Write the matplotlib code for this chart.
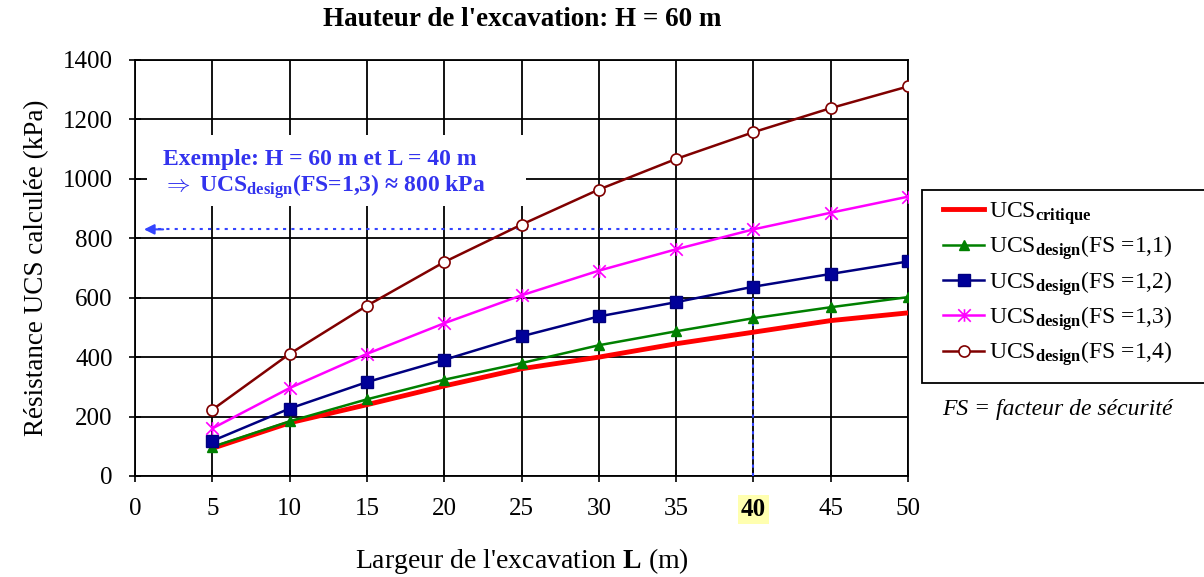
import matplotlib
matplotlib.use("Agg")
import matplotlib.pyplot as plt
from matplotlib.path import Path
from matplotlib.patches import Rectangle
import numpy as np

# ---- data ----
L = [5, 10, 15, 20, 25, 30, 35, 40, 45, 50]
ucs_critique = [93, 179, 240, 303, 361, 400, 445, 484, 523, 549]
ucs_fs11 = [98, 184, 258, 324, 380, 440, 487, 531, 568, 602]
ucs_fs12 = [118, 227, 316, 391, 470, 537, 585, 637, 680, 722]
ucs_fs13 = [160, 296, 411, 514, 608, 691, 763, 830, 886, 940]
ucs_fs14 = [223, 411, 573, 720, 846, 964, 1067, 1157, 1238, 1311]
x_ticks = [0, 5, 10, 15, 20, 25, 30, 35, 40, 45, 50]
y_ticks = [0, 200, 400, 600, 800, 1000, 1200, 1400]
example_L = 40

plt.rcParams['font.family'] = ['Liberation Serif', 'DejaVu Serif']
plt.rcParams['mathtext.fontset'] = 'custom'
plt.rcParams['mathtext.rm'] = 'Liberation Serif'
plt.rcParams['mathtext.bf'] = 'Liberation Serif:bold'
plt.rcParams['mathtext.it'] = 'Liberation Serif:italic'

W, H = 1204, 577
fig = plt.figure(figsize=(W/100, H/100), dpi=100)
ax = fig.add_axes([135/W, 1-476/H, (908-135)/W, (476-60)/H])

star = Path([(-1, -1), (1, 1), (-1, 1), (1, -1), (0, -1), (0, 1)],
            [Path.MOVETO, Path.LINETO, Path.MOVETO, Path.LINETO, Path.MOVETO, Path.LINETO])

ax.plot(L, ucs_critique, color='#ff0000', lw=3.5, zorder=5, label=r'UCS$_{\mathbf{critique}}$')
ax.plot(L, ucs_fs11, color='#008000', lw=1.8, marker='^', ms=7, zorder=5,
        label=r'UCS$_{\mathbf{design}}$(FS =1,1)')
ax.plot(L, ucs_fs12, color='#000080', lw=1.8, marker='s', ms=8, mfc='#000099', zorder=5,
        label=r'UCS$_{\mathbf{design}}$(FS =1,2)')
ax.plot(L, ucs_fs13, color='#ff00ff', lw=1.8, marker=star, ms=9, mew=1.2, zorder=5,
        label=r'UCS$_{\mathbf{design}}$(FS =1,3)')
ax.plot(L, ucs_fs14, color='#800000', lw=1.8, marker='o', ms=8, mfc='white', mew=1.2, zorder=5,
        label=r'UCS$_{\mathbf{design}}$(FS =1,4)')

# example dotted lines
ex_val = ucs_fs13[L.index(example_L)]
dot_col = '#3344ff'
ax.plot([example_L, example_L], [0, ex_val], color=dot_col, lw=1.5, ls=(0, (1.5, 2.5)), zorder=4)
ax.plot([1.5, example_L], [ex_val, ex_val], color=dot_col, lw=1.5, ls=(0, (1.5, 2.5)), zorder=4)
ax.annotate('', xy=(0.4, ex_val), xytext=(2.0, ex_val),
            arrowprops=dict(arrowstyle='-|>,head_length=0.6,head_width=0.3', color=dot_col, lw=1.5),
            zorder=4)

# white box behind the example text (hides grid lines)
ax.add_patch(Rectangle((0.8, 908), 24.5, 241, facecolor='white', edgecolor='none', zorder=3))
ax.text(1.8, 1065, 'Exemple: H = 60 m et L = 40 m', color='#3333ee', fontsize=17,
        fontweight='bold', va='center', ha='left', zorder=6)
ax.text(1.8, 975, r'$\Rightarrow$ UCS$_{\mathbf{design}}$(FS=1,3) ≈ 800 kPa', color='#3333ee',
        fontsize=17, fontweight='bold', va='center', ha='left', zorder=6)

ax.set_xlim(0, 50)
ax.set_ylim(0, 1400)
ax.set_xticks(x_ticks)
ax.set_yticks(y_ticks)
ax.grid(True, color='black', lw=1.3, zorder=1)
ax.set_axisbelow(True)
for s in ax.spines.values():
    s.set_color('black')
    s.set_linewidth(1.3)
ax.tick_params(direction='inout', length=8, width=1.2, labelsize=18, colors='black')
ax.tick_params(axis='x', pad=12)
ax.tick_params(axis='y', pad=12)

for lab in ax.get_xticklabels():
    if lab.get_text() == str(example_L):
        lab.set_fontweight('bold')
        lab.set_bbox(dict(facecolor='#ffffb0', edgecolor='none', pad=2))

ax.set_xlabel(r"Largeur de l'excavation $\mathbf{L}$ (m)", fontsize=20, labelpad=18)
ax.set_ylabel('Résistance UCS calculée (kPa)', fontsize=19.5, labelpad=10)
fig.text(522/W, 1-20/H, "Hauteur de l'excavation: H = 60 m", fontsize=19.5,
         fontweight='bold', ha='center', va='center')

# legend frame drawn separately (extends past the right edge as in the reference)
frame = Rectangle((922/W, 1-383/H), (1215-922)/W, (383-190)/H, transform=fig.transFigure,
                  facecolor='white', edgecolor='black', lw=1.3, zorder=1)
fig.add_artist(frame)
leg = fig.legend(loc='upper left', bbox_to_anchor=(943/W, 1-200/H), fontsize=17,
                 frameon=False, handlelength=1.75, handletextpad=0.2, borderpad=0,
                 labelspacing=0.28, borderaxespad=0)
leg.set_zorder(2)

fig.text(942/W, 1-410/H, 'FS = facteur de sécurité', fontsize=17, style='italic',
         ha='left', va='center')

fig.savefig('out.png', dpi=100)
